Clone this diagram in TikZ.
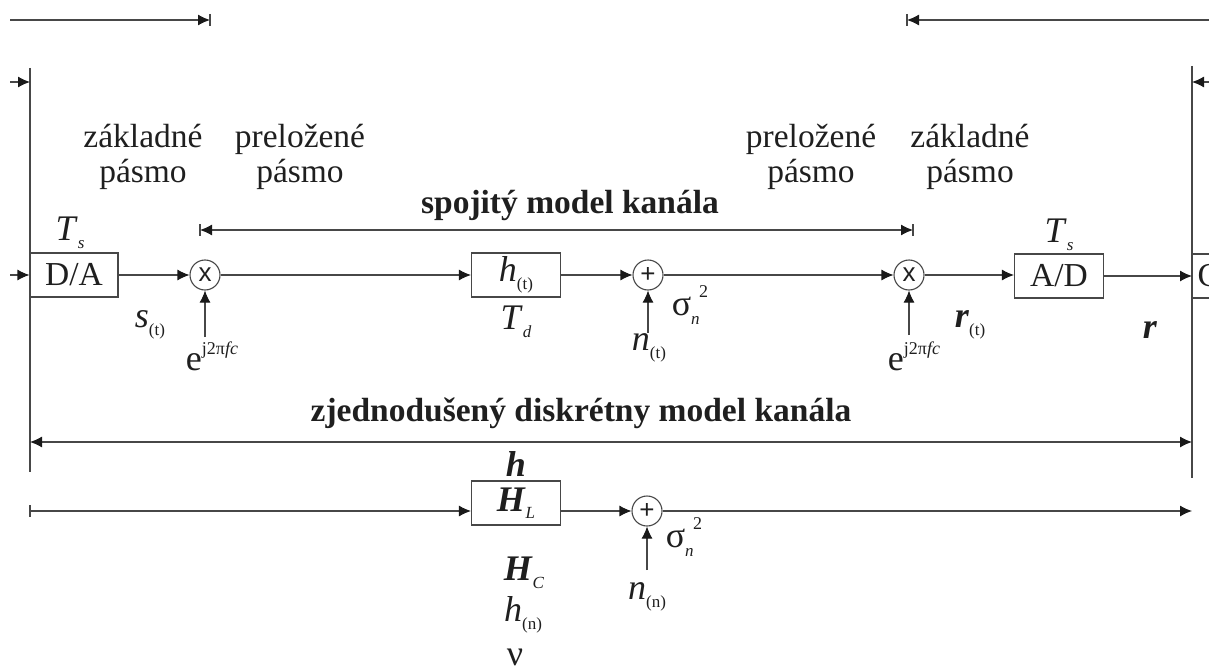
\documentclass[tikz,border=0pt]{standalone}
\usepackage{fontspec}
\setmainfont{Liberation Serif}
\newfontfamily\symfont{Liberation Sans}
\usetikzlibrary{arrows.meta}
\newcommand{\lsub}[1]{\raisebox{-0.45ex}{\fontsize{17}{17}\selectfont #1}}
\newcommand{\usup}[1]{\raisebox{0.95ex}{\fontsize{18}{18}\selectfont #1}}
\newcommand{\mfont}{\fontsize{36}{38}\selectfont}
\newcommand{\sigsq}{σ\makebox[0pt][l]{\raisebox{-0.5ex}{\fontsize{17}{17}\selectfont\itshape n}}\hspace{8pt}\raisebox{1.1ex}{\fontsize{18}{18}\selectfont 2}}
\begin{document}
\begin{tikzpicture}[x=1pt,y=-1pt,
  line width=1.1pt, color=black!72,
  every node/.style={text=black!88, inner sep=0pt, font=\fontsize{33.5}{35}\selectfont},
  blk/.style={draw=black!72, rectangle, minimum width=89pt, minimum height=44pt},
  circ/.style={draw=black!72, circle, minimum size=30pt, font=\symfont\fontsize{26}{26}\selectfont},
  arr/.style={-{Latex[length=12pt,width=11pt,color=black!90]}},
  darr/.style={{Latex[length=12pt,width=11pt,color=black!90]}-{Latex[length=12pt,width=11pt,color=black!90]}},
  lbl/.style={align=center},
  mth/.style={font=\mfont}
]
\useasboundingbox (0,0) rectangle (1209,666);

% top direction arrows
\coordinate (tl0) at (10,20);
\coordinate (tl1) at (210,20);
\draw[arr] (tl0) -- (tl1);
\draw (210,14) -- (210,26);
\coordinate (tr0) at (1209,20);
\coordinate (tr1) at (907,20);
\draw[arr] (tr0) -- (tr1);
\draw (907,14) -- (907,26);

% vertical boundaries
\coordinate (lvt) at (30,68);
\coordinate (lvb) at (30,472);
\draw (lvt) -- (lvb);
\coordinate (rvt) at (1192,66);
\coordinate (rvb) at (1192,478);
\draw (rvt) -- (rvb);
\coordinate (la0) at (10,82);
\coordinate (la1) at (30,82);
\draw[arr] (la0) -- (la1);
\coordinate (ra0) at (1209,82);
\coordinate (ra1) at (1192,82);
\draw[arr] (ra0) -- (ra1);

% band labels
\node[lbl] (zb1) at (143,157) {základné\\pásmo};
\node[lbl] (pb1) at (300,157) {preložené\\pásmo};
\node[lbl] (pb2) at (811,157) {preložené\\pásmo};
\node[lbl] (zb2) at (970,157) {základné\\pásmo};

% continuous model span
\node (spoj) at (570,205) {\textbf{spojitý model kanála}};
\coordinate (sp0) at (200,230);
\coordinate (sp1) at (913,230);
\draw[darr] (sp0) -- (sp1);
\draw (200,224) -- (200,236);
\draw (913,224) -- (913,236);

% main chain
\coordinate (in) at (10,275);
\node[blk, minimum width=88pt] (da) at (74,275) {D/A};
\node[circ] (m1) at (205,275) {x};
\node[blk] (ht) at (516,275) {\mfont\textit{h}\lsub{(t)}};
\node[circ] (a1) at (648,275) {+};
\node[circ] (m2) at (909,275) {x};
\node[blk] (ad) at (1059,276) {A/D};
\node[draw=black!72, anchor=west, minimum height=44pt, text width=40pt, inner xsep=5pt, align=left] (cb) at (1192,276) {C};

\draw[arr] (in) -- (da);
\draw[arr] (da) -- (m1);
\draw[arr] (m1) -- (ht);
\draw[arr] (ht) -- (a1);
\draw[arr] (a1) -- (m2);
\draw[arr] (m2) -- (ad.west |- m2);
\draw[arr] (ad) -- (cb);

% labels main chain
\node[mth] (ts1) at (70,233) {\textit{T}\lsub{\textit{s}}};
\node[mth] (st) at (150,325) {\textit{s}\lsub{(t)}};
\node[mth] (e1) at (212,356) {e\usup{j2π\textit{fc}}};
\coordinate (e1a) at (205,337);
\draw[arr] (e1a) -- (m1);
\node[mth] (td) at (516,322) {\textit{T}\lsub{\textit{d}}};
\node[mth] (nt) at (649,348) {\textit{n}\lsub{(t)}};
\coordinate (nta) at (648,333);
\draw[arr] (nta) -- (a1);
\node[mth] (sg1) at (690,305) {\sigsq};
\node[mth] (e2) at (914,356) {e\usup{j2π\textit{fc}}};
\coordinate (e2a) at (909,335);
\draw[arr] (e2a) -- (m2);
\node[mth] (rt) at (970,325) {\textbf{\textit{r}}\lsub{(t)}};
\node[mth] (ts2) at (1059,235) {\textit{T}\lsub{\textit{s}}};
\node[mth] (r) at (1150,330) {\textbf{\textit{r}}};

% discrete model span
\node (zjed) at (581,413) {\textbf{zjednodušený diskrétny model kanála}};
\coordinate (zd0) at (30,442);
\coordinate (zd1) at (1192,442);
\draw[darr] (zd0) -- (zd1);

% discrete chain
\coordinate (bs) at (30,511);
\draw (30,505) -- (30,517);
\node[blk, minimum height=44pt] (hl) at (516,503) {\mfont\textbf{\textit{H}}\lsub{\textit{L}}};
\node[circ] (a2) at (647,511) {+};
\coordinate (be) at (1192,511);
\draw[arr] (bs) -- (bs -| hl.west);
\draw[arr] (a2 -| hl.east) -- (a2);
\draw[arr] (a2) -- (be);
\coordinate (nna) at (647,570);
\draw[arr] (nna) -- (a2);
\node[mth] (nn) at (647,597) {\textit{n}\lsub{(n)}};
\node[mth] (sg2) at (684,537) {\sigsq};
\node[mth, anchor=south] (hb) at (516,477) {\textbf{\textit{h}}};
\node[mth] (hc) at (524,573) {\textbf{\textit{H}}\lsub{\textit{C}}};
\node[mth] (hn) at (523,615) {\textit{h}\lsub{(n)}};
\node[mth, anchor=north] (nu) at (515,648) {ν};
\end{tikzpicture}
\end{document}
